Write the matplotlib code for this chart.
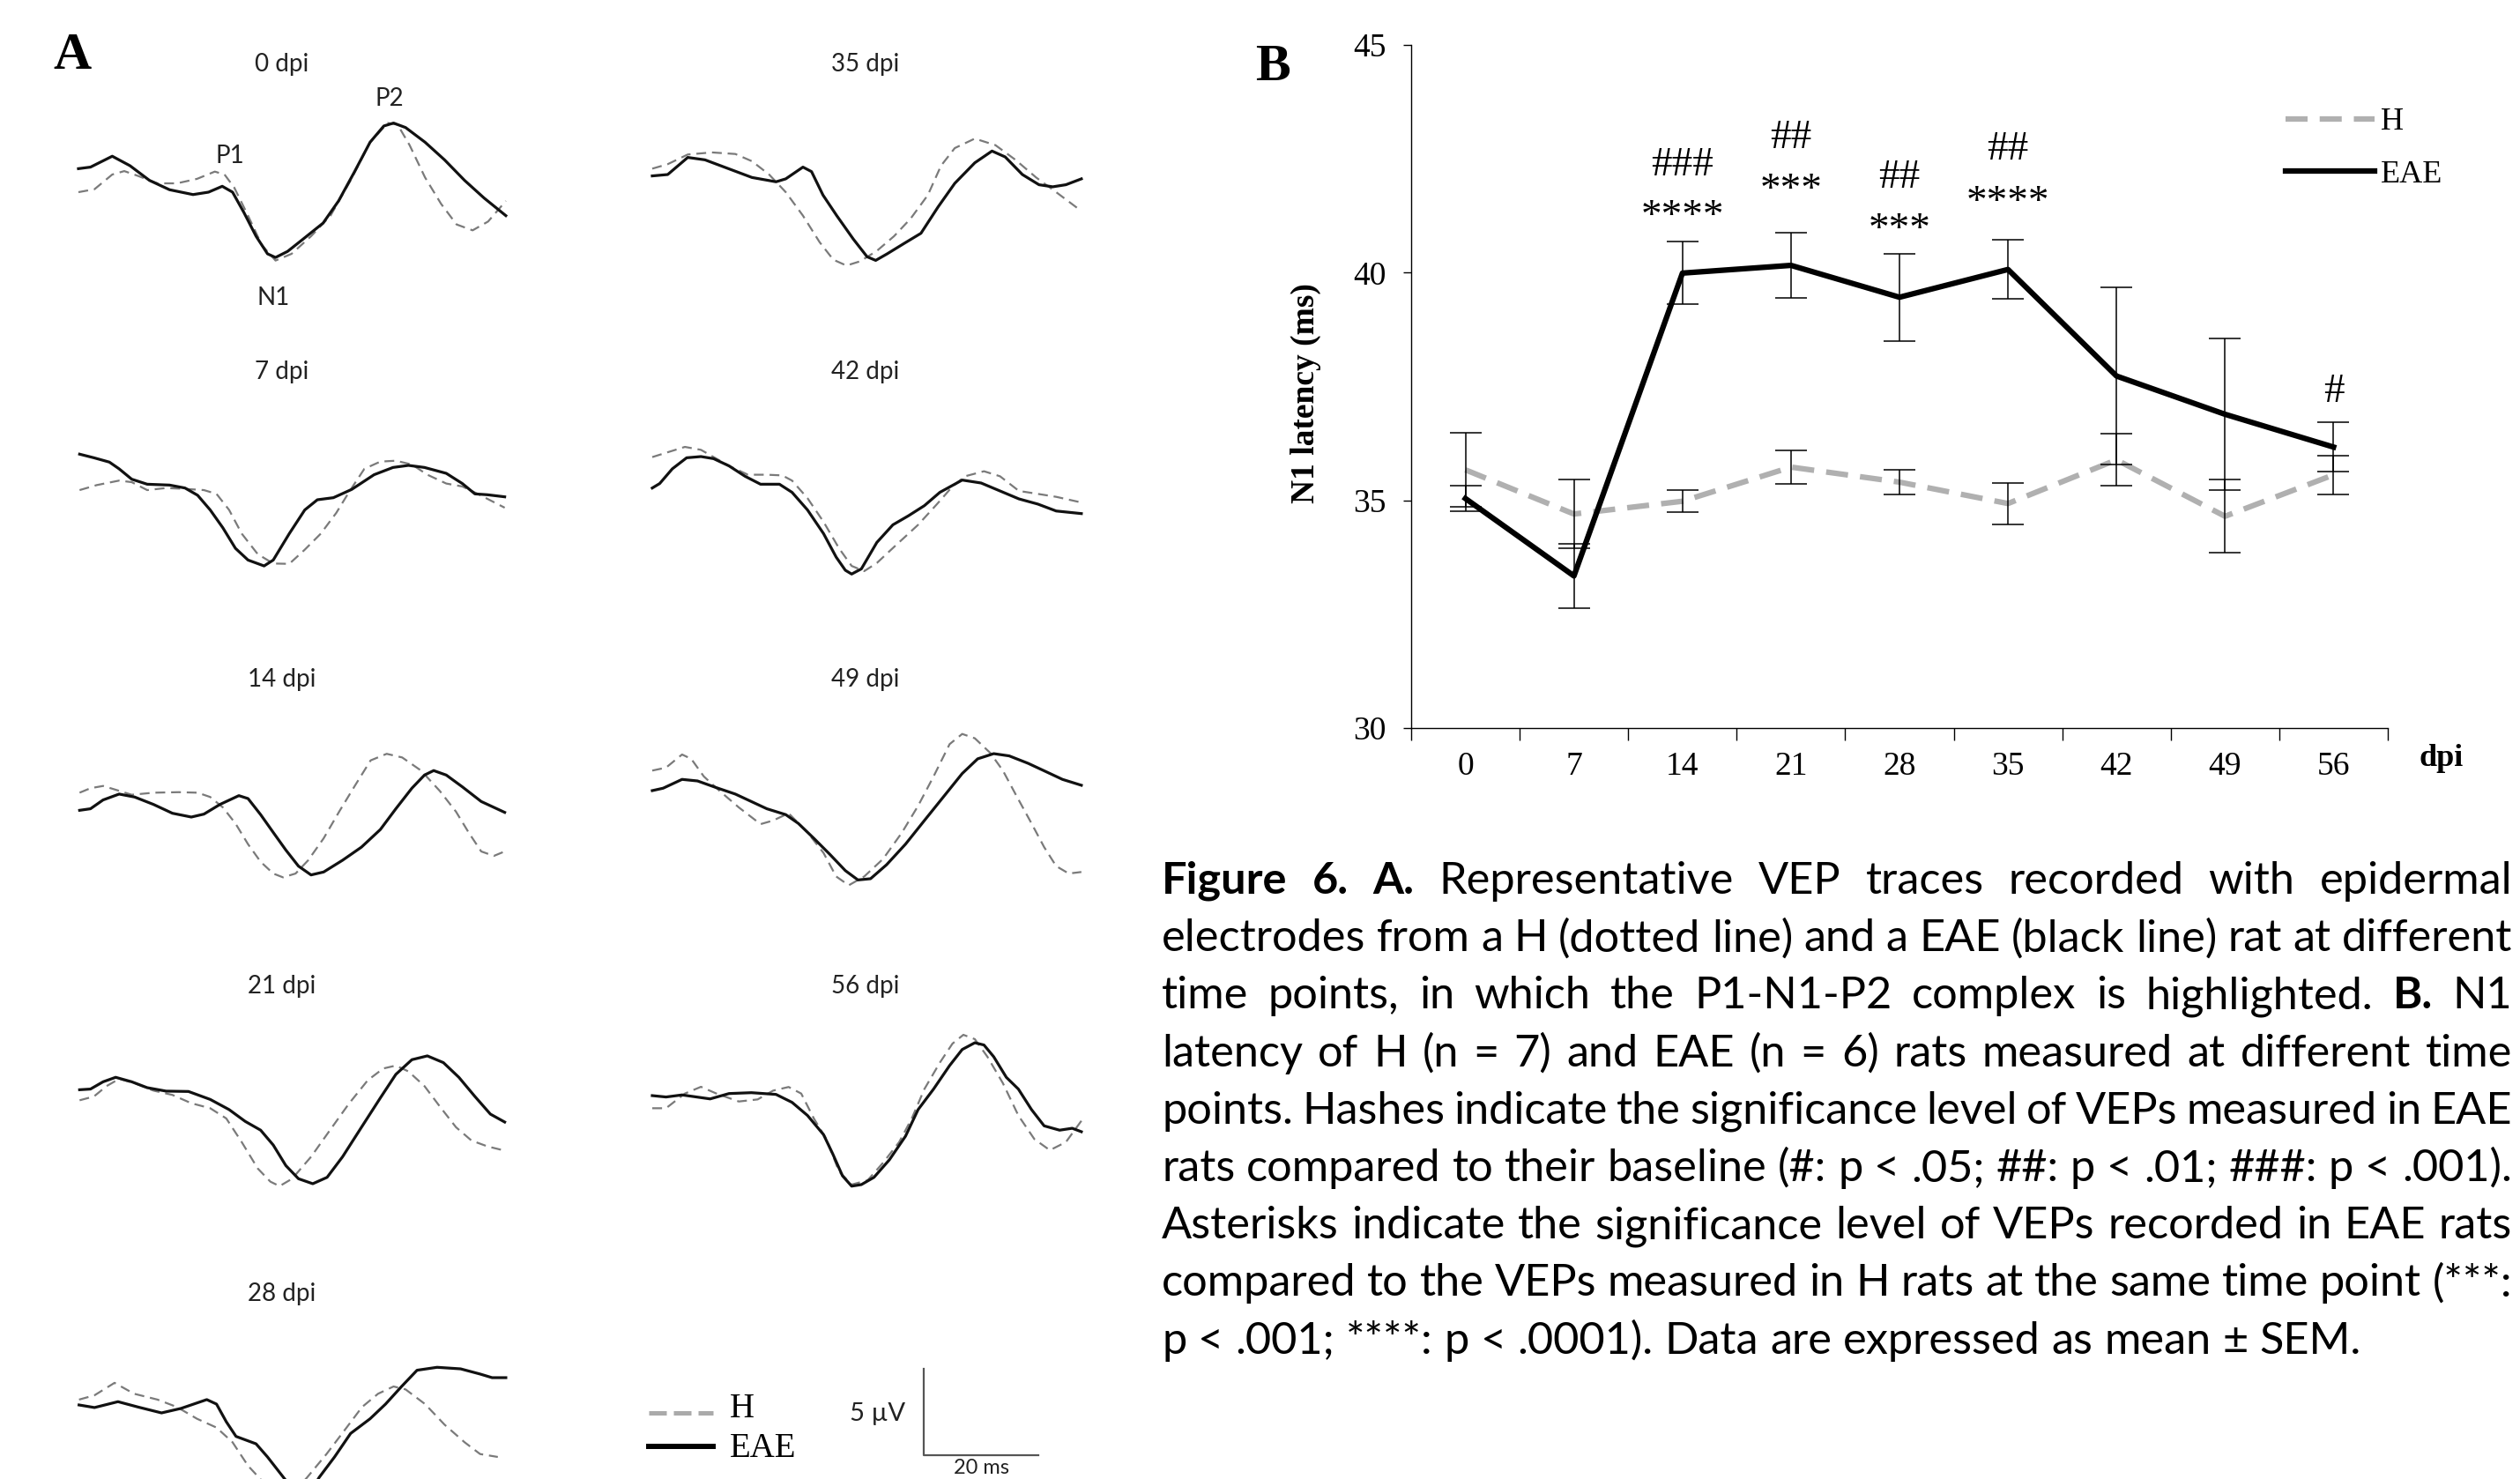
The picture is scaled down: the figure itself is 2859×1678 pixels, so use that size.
import matplotlib
matplotlib.use('Agg')
import matplotlib.pyplot as plt

W, H = 2859, 1678
sans = ['Lato', 'DejaVu Sans']
serif = ['Liberation Serif', 'DejaVu Serif']

# ---------- panel A: representative VEP traces, points (time ms, amplitude uV) ----------
h_0 = [(0, 1.02), (2.8, 1.19), (5.9, 2.04), (8.0, 2.24), (10.4, 1.96), (13.8, 1.53), (17.2, 1.53),
       (20.7, 1.79), (23.8, 2.21), (25.5, 2.04), (27.2, 1.28), (29.6, -0.34), (32.0, -2.04),
       (34.4, -2.94), (37.2, -2.55), (40.6, -1.53), (44.0, -0.34), (47.5, 1.70), (50.9, 3.91),
       (54.0, 5.02), (55.7, 4.93), (57.8, 3.74), (60.5, 1.87), (63.3, 0.34), (66.0, -0.85),
       (68.8, -1.19), (71.5, -0.68), (74.6, 0.51)]
eae_0 = [(0, 2.38), (2.1, 2.47), (5.9, 3.10), (9.0, 2.55), (12.4, 1.70), (15.9, 1.16), (20.0, 0.88),
         (22.7, 1.02), (25.1, 1.36), (26.9, 1.02), (28.9, -0.17), (31.0, -1.53), (33.0, -2.55),
         (34.4, -2.76), (36.5, -2.41), (39.2, -1.70), (42.7, -0.77), (45.4, 0.51), (48.2, 2.21),
         (50.9, 3.91), (53.3, 4.85), (55.0, 5.02), (57.1, 4.76), (60.5, 3.91), (63.9, 2.89),
         (67.4, 1.70), (70.8, 0.68), (74.6, -0.34)]

h_7 = [(0.2, 1.58), (3.2, 1.87), (7.1, 2.13), (9.3, 2.04), (12.0, 1.58), (15.3, 1.70), (18.6, 1.65),
       (21.9, 1.58), (24.1, 1.36), (26.3, 0.43), (28.5, -0.94), (31.3, -2.13), (34.0, -2.67),
       (36.8, -2.69), (39.5, -1.87), (42.3, -0.94), (45.0, 0.26), (47.2, 1.45), (49.9, 2.81),
       (52.7, 3.23), (55.4, 3.28), (58.2, 3.06), (60.9, 2.47), (64.2, 1.96), (67.0, 1.79),
       (69.7, 1.36), (74.4, 0.56)]
eae_7 = [(0.2, 3.66), (2.7, 3.45), (5.4, 3.20), (7.1, 2.81), (9.3, 2.21), (12.0, 1.92), (15.9, 1.87),
         (18.6, 1.70), (20.8, 1.28), (23.0, 0.43), (25.2, -0.60), (27.4, -1.79), (29.6, -2.47),
         (32.4, -2.81), (34.0, -2.47), (36.8, -0.94), (39.5, 0.43), (41.7, 1.02), (44.5, 1.14),
         (47.7, 1.62), (51.6, 2.47), (54.9, 2.89), (57.6, 3.01), (60.4, 2.89), (64.2, 2.55),
         (67.0, 1.96), (69.2, 1.36), (71.4, 1.31), (74.4, 1.19)]

h_14 = [(0.2, 1.87), (2.1, 2.13), (4.3, 2.26), (6.5, 2.04), (9.3, 1.75), (13.1, 1.87), (17.5, 1.90),
        (20.8, 1.87), (23.0, 1.62), (25.2, 1.02), (27.4, 0.09), (29.6, -1.11), (31.8, -2.13),
        (34.0, -2.81), (35.7, -3.03), (37.9, -2.81), (40.1, -2.04), (42.8, -0.77), (45.5, 0.77),
        (48.3, 2.30), (51.0, 3.74), (53.8, 4.12), (56.5, 3.91), (59.8, 3.15), (63.1, 1.96),
        (65.9, 0.77), (68.1, -0.43), (70.3, -1.53), (72.5, -1.79), (74.4, -1.53)]
eae_14 = [(0.2, 0.85), (2.1, 0.94), (4.3, 1.45), (7.1, 1.79), (9.8, 1.62), (13.1, 1.19), (16.4, 0.68),
          (19.7, 0.46), (21.9, 0.63), (24.7, 1.19), (28.0, 1.70), (29.6, 1.53), (31.8, 0.60),
          (34.0, -0.43), (36.2, -1.45), (38.4, -2.38), (40.6, -2.89), (42.8, -2.72), (46.1, -2.04),
          (49.4, -1.28), (52.7, -0.26), (55.4, 0.94), (58.2, 2.13), (60.4, 2.89), (62.0, 3.15),
          (64.2, 2.89), (67.0, 2.21), (70.3, 1.36), (74.4, 0.73)]

h_21 = [(0.2, 1.82), (2.7, 2.04), (4.9, 2.64), (7.1, 3.06), (9.8, 2.81), (13.1, 2.38), (16.4, 2.13),
        (19.7, 1.65), (23.0, 1.36), (25.8, 0.77), (28.5, -0.60), (31.3, -2.13), (33.5, -2.89),
        (35.1, -3.15), (37.3, -2.72), (40.6, -1.45), (43.9, 0.09), (47.2, 1.62), (50.5, 2.98),
        (53.2, 3.66), (55.4, 3.83), (57.6, 3.49), (60.4, 2.64), (63.1, 1.45), (65.9, 0.26),
        (68.6, -0.51), (71.4, -0.85), (74.1, -1.07)]
eae_21 = [(0.2, 2.43), (2.1, 2.47), (4.3, 2.89), (6.5, 3.15), (9.3, 2.89), (12.0, 2.55), (15.3, 2.35),
          (19.2, 2.33), (23.0, 1.87), (26.3, 1.28), (29.1, 0.60), (31.8, 0.09), (34.0, -0.77),
          (36.2, -1.96), (38.4, -2.72), (40.9, -3.01), (43.4, -2.64), (46.1, -1.45), (49.4, 0.26),
          (52.7, 1.96), (55.4, 3.32), (58.2, 4.17), (60.9, 4.39), (63.7, 4.00), (66.4, 3.15),
          (69.2, 2.04), (71.9, 1.02), (74.4, 0.56)]

h_28 = [(0.1, 2.30), (2.8, 2.55), (6.3, 3.27), (9.7, 2.64), (13.8, 2.30), (17.2, 1.87), (20.7, 1.19),
        (24.1, 0.68), (26.9, -0.17), (29.6, -1.53), (31.7, -2.28), (34.4, -3.40), (37.2, -3.23),
        (39.9, -2.21), (43.3, -0.85), (46.8, 0.68), (49.5, 1.87), (52.3, 2.64), (55.0, 3.06),
        (57.1, 2.89), (60.5, 2.04), (63.9, 0.85), (67.4, -0.17), (70.1, -0.85), (73.2, -1.02)]
eae_28 = [(0.1, 1.99), (2.8, 1.84), (6.9, 2.18), (10.4, 1.87), (14.5, 1.53), (17.9, 1.79), (22.4, 2.30),
          (24.1, 2.04), (25.8, 1.02), (27.5, 0.17), (31.0, -0.26), (33.0, -1.02), (35.8, -2.21),
          (37.8, -3.06), (39.9, -3.40), (42.0, -2.21), (44.7, -1.02), (47.5, 0.34), (50.9, 1.19),
          (53.6, 2.04), (56.4, 3.06), (59.1, 4.00), (62.6, 4.17), (66.7, 4.08), (70.1, 3.78),
          (72.2, 3.57), (74.6, 3.57)]

h_35 = [(0, 2.38), (2.7, 2.64), (6.2, 3.20), (10.4, 3.32), (14.5, 3.23), (17.4, 2.81), (20.4, 2.04),
        (23.3, 1.02), (26.3, -0.34), (29.2, -1.87), (31.6, -2.89), (33.9, -3.23), (36.3, -2.98),
        (39.2, -2.38), (42.2, -1.53), (45.1, -0.51), (48.1, 0.85), (50.4, 2.55), (52.8, 3.57),
        (56.3, 4.12), (59.9, 3.74), (63.4, 2.89), (67.0, 1.87), (70.5, 1.02), (74.6, 0.0)]
eae_35 = [(0, 1.96), (2.7, 2.04), (6.2, 3.03), (9.2, 2.89), (13.3, 2.38), (17.4, 1.87), (21.6, 1.62),
          (23.3, 1.79), (26.3, 2.47), (27.8, 2.21), (29.8, 0.85), (32.2, -0.34), (35.1, -1.70),
          (37.5, -2.72), (39.0, -2.93), (41.0, -2.55), (43.9, -1.96), (46.9, -1.36), (49.9, 0.17),
          (52.8, 1.53), (56.3, 2.72), (59.3, 3.40), (61.6, 3.06), (64.6, 2.04), (67.5, 1.45),
          (69.9, 1.33), (72.2, 1.45), (74.9, 1.79)]

h_42 = [(0, 3.49), (2.4, 3.74), (5.7, 4.08), (8.5, 3.91), (11.2, 3.40), (13.4, 2.98), (16.7, 2.47),
        (20.0, 2.47), (22.7, 2.43), (24.4, 2.13), (27.1, 1.11), (29.9, -0.26), (32.6, -1.79),
        (34.8, -2.81), (37.0, -3.11), (39.2, -2.64), (42.5, -1.62), (46.4, -0.43), (49.7, 0.77),
        (52.4, 1.79), (54.6, 2.38), (57.9, 2.67), (60.7, 2.38), (64.0, 1.53), (67.3, 1.36),
        (70.5, 1.19), (74.4, 0.90)]
eae_42 = [(0, 1.70), (1.3, 1.96), (3.5, 2.81), (6.0, 3.45), (8.5, 3.52), (10.7, 3.40), (13.4, 2.98),
          (16.2, 2.38), (18.9, 1.92), (22.2, 1.92), (24.4, 1.45), (27.1, 0.43), (29.9, -0.94),
          (32.1, -2.30), (33.7, -3.06), (34.8, -3.28), (36.5, -2.98), (39.2, -1.45), (42.0, -0.43),
          (44.7, 0.09), (47.5, 0.68), (50.2, 1.45), (54.1, 2.16), (57.4, 1.99), (60.7, 1.53),
          (64.0, 1.07), (67.3, 0.77), (70.5, 0.37), (74.9, 0.22)]

h_49 = [(0, 3.15), (2.4, 3.32), (5.2, 4.08), (6.8, 3.83), (9.0, 2.81), (11.8, 1.96), (15.1, 1.02),
        (18.9, 0.05), (21.1, 0.26), (23.8, 0.68), (27.1, -0.43), (29.9, -1.62), (32.1, -2.98),
        (34.3, -3.49), (37.0, -2.98), (40.3, -1.96), (43.6, -0.43), (46.4, 1.11), (49.1, 2.81),
        (51.9, 4.68), (54.1, 5.27), (56.3, 5.02), (59.0, 4.17), (61.2, 3.15), (63.4, 1.79),
        (66.2, 0.09), (68.4, -1.28), (70.5, -2.38), (72.7, -2.81), (74.9, -2.72)]
eae_49 = [(0, 1.99), (1.9, 2.13), (5.2, 2.64), (7.9, 2.55), (11.2, 2.16), (14.5, 1.79), (17.8, 1.28),
          (20.0, 0.94), (23.3, 0.60), (25.5, 0.09), (28.2, -0.77), (31.0, -1.70), (33.7, -2.64),
          (35.9, -3.18), (38.1, -3.11), (40.9, -2.30), (44.2, -1.11), (47.5, 0.26), (50.8, 1.62),
          (54.1, 2.98), (56.8, 3.83), (59.6, 4.13), (62.3, 4.00), (65.6, 3.57), (68.9, 3.06),
          (71.6, 2.64), (74.9, 2.30)]

h_56 = [(0, 1.36), (2.4, 1.36), (5.7, 2.21), (8.5, 2.60), (11.2, 2.21), (15.1, 1.75), (18.4, 1.87),
        (21.1, 2.38), (23.8, 2.59), (26.0, 2.21), (28.2, 0.77), (30.4, -0.43), (32.6, -2.30),
        (34.8, -3.06), (37.6, -2.81), (40.3, -1.79), (43.1, -0.60), (45.3, 0.77), (47.5, 2.47),
        (50.2, 4.00), (52.4, 5.10), (54.3, 5.61), (56.3, 5.36), (58.5, 4.34), (61.2, 2.81),
        (63.9, 0.94), (66.7, -0.43), (69.4, -1.07), (72.2, -0.60), (74.9, 0.63)]
eae_56 = [(0, 2.09), (2.4, 2.01), (5.2, 2.13), (10.1, 1.90), (13.4, 2.21), (17.3, 2.26), (21.6, 2.16),
          (24.4, 1.70), (27.1, 0.94), (29.9, -0.17), (31.5, -1.28), (33.2, -2.55), (34.8, -3.15),
          (36.5, -3.06), (38.7, -2.64), (41.4, -1.62), (44.2, -0.26), (46.4, 1.28), (49.1, 2.47),
          (51.9, 3.83), (54.1, 4.76), (56.3, 5.15), (57.9, 5.02), (59.6, 4.34), (61.8, 3.15),
          (63.9, 2.47), (66.2, 1.28), (68.4, 0.34), (71.1, 0.09), (73.3, 0.20), (74.9, 0.0)]

left_titles = ['0 dpi', '7 dpi', '14 dpi', '21 dpi', '28 dpi']
right_titles = ['35 dpi', '42 dpi', '49 dpi', '56 dpi']
left_traces = [(h_0, eae_0), (h_7, eae_7), (h_14, eae_14), (h_21, eae_21), (h_28, eae_28)]
right_traces = [(h_35, eae_35), (h_42, eae_42), (h_49, eae_49), (h_56, eae_56)]

# ---------- panel B: N1 latency (ms), mean and SEM ----------
days = ['0', '7', '14', '21', '28', '35', '42', '49', '56']
h_mean = [35.67, 34.70, 34.98, 35.73, 35.40, 34.93, 35.89, 34.65, 35.56]
h_sem = [0.81, 0.75, 0.24, 0.37, 0.27, 0.45, 0.57, 0.80, 0.43]
eae_mean = [35.04, 33.34, 39.99, 40.16, 39.46, 40.07, 37.73, 36.89, 36.17]
eae_sem = [0.28, 0.70, 0.69, 0.72, 0.96, 0.65, 1.95, 1.67, 0.54]
hash_marks = ['', '', '###', '##', '##', '##', '', '', '#']
hash_y = [0, 0, 42.14, 42.73, 41.87, 42.48, 0, 0, 37.16]
star_marks = ['', '', '****', '***', '***', '****', '', '', '']
star_y = [0, 0, 40.99, 41.58, 40.70, 41.30, 0, 0, 0]

caption = [
    'Figure 6. A. Representative VEP traces recorded with epidermal',
    'electrodes from a H (dotted line) and a EAE (black line) rat at different',
    'time points, in which the P1-N1-P2 complex is highlighted. B. N1',
    'latency of H (n = 7) and EAE (n = 6) rats measured at different time',
    'points. Hashes indicate the significance level of VEPs measured in EAE',
    'rats compared to their baseline (#: p < .05; ##: p < .01; ###: p < .001).',
    'Asterisks indicate the significance level of VEPs recorded in EAE rats',
    'compared to the VEPs measured in H rats at the same time point (***:',
    'p < .001; ****: p < .0001). Data are expressed as mean \u00b1 SEM.',
]
bold_words = ['Figure', '6.', 'A.', 'B.']

fig = plt.figure(figsize=(W / 100, H / 100), dpi=100)

px_ms, px_uv = 6.5, 19.6
col_left = [89, 740]
title_x = [320, 982]
row_y = [73, 422, 771, 1119, 1468]
trace_gray = '#7a7a7a'


def trace_axes(col, row):
    yc = row_y[row] + 165
    ax = fig.add_axes([col_left[col] / W, 1 - (yc + 6 * px_uv) / H,
                       75 * px_ms / W, 12 * px_uv / H])
    ax.set_xlim(0, 75)
    ax.set_ylim(-6, 6)
    ax.axis('off')
    return ax


for col, (titles, traces) in enumerate([(left_titles, left_traces), (right_titles, right_traces)]):
    for row, (title, (h_tr, e_tr)) in enumerate(zip(titles, traces)):
        ax = trace_axes(col, row)
        ax.plot([p[0] for p in h_tr], [p[1] for p in h_tr], color=trace_gray, lw=1.6,
                dashes=(5, 3), clip_on=False)
        ax.plot([p[0] for p in e_tr], [p[1] for p in e_tr], color='#111111', lw=2.3,
                solid_joinstyle='round', clip_on=False)
        fig.text(title_x[col] / W, 1 - row_y[row] / H, title, family=sans, fontsize=20,
                 color='#222222', ha='center', va='center')
        if col == 0 and row == 0:
            ax.text(26.5, 3.11, 'P1', family=sans, fontsize=20, color='#222222', ha='center', va='center')
            ax.text(54.3, 6.43, 'P2', family=sans, fontsize=20, color='#222222', ha='center', va='center')
            ax.text(34.0, -5.1, 'N1', family=sans, fontsize=20, color='#222222', ha='center', va='center')

# legend and scale bars of panel A, in the empty bottom-right slot
ax = trace_axes(1, 4)
ax.plot([-0.6, 10.6], [1.53, 1.53], color='#aaaaaa', lw=3.6, dashes=(4, 1.6), clip_on=False)
ax.plot([-0.6, 10.6], [-0.41, -0.41], color='black', lw=4.3, clip_on=False)
ax.text(13.5, 1.28, 'H', family=serif, fontsize=28, va='baseline', ha='left')
ax.text(13.5, -1.02, 'EAE', family=serif, fontsize=28, va='baseline', ha='left')
ax.plot([47.4, 47.4, 67.4], [4.08, -0.92, -0.92], color='#555555', lw=1.6, clip_on=False)
ax.text(44.2, 1.07, '5 \u00b5V', family=sans, fontsize=21, ha='right', va='baseline', color='#222222')
fig.text((740 + 57.4 * px_ms) / W, 1 - 1676 / H, '20 ms', family=sans, fontsize=17,
         ha='center', va='bottom', color='#222222')

fig.text(82 / W, 1 - 64 / H, 'A', family=serif, weight='bold', fontsize=43, ha='center', va='center')

# ---------- panel B ----------
axb = fig.add_axes([1601 / W, 1 - 826 / H, 1108 / W, 775 / H])
x = list(range(len(days)))
axb.plot(x, h_mean, color='#b0b0b0', lw=4.5, dashes=(4, 2.2), label='H')
axb.plot(x, eae_mean, color='black', lw=4.5, label='EAE')
axb.errorbar(x, h_mean, yerr=h_sem, fmt='none', ecolor='black', elinewidth=1.1, capsize=13, capthick=1.1)
axb.errorbar(x, eae_mean, yerr=eae_sem, fmt='none', ecolor='black', elinewidth=1.1, capsize=13, capthick=1.1)
for i in x:
    if hash_marks[i]:
        axb.text(i, hash_y[i], hash_marks[i], family=serif, fontsize=34, ha='center', va='baseline')
    if star_marks[i]:
        axb.text(i, star_y[i], star_marks[i], family=serif, fontsize=34, ha='center', va='baseline')
axb.set_xlim(-0.5, 8.5)
axb.set_ylim(30, 45)
axb.set_yticks([30, 35, 40, 45])
axb.set_xticks(x)
axb.set_xticklabels(days)
axb.set_xticks([i - 0.5 for i in range(len(days) + 1)], minor=True)
axb.tick_params(axis='x', which='major', length=0, pad=19, labelsize=27)
axb.tick_params(axis='x', which='minor', length=10, width=1, direction='out')
axb.tick_params(axis='y', length=6.5, width=1, direction='out', pad=14, labelsize=27)
for lab in axb.get_xticklabels() + axb.get_yticklabels():
    lab.set_family(serif)
for s in ['top', 'right']:
    axb.spines[s].set_visible(False)
for s in ['left', 'bottom']:
    axb.spines[s].set_linewidth(1)
axb.set_ylabel('N1 latency (ms)', family=serif, weight='bold', fontsize=27)
axb.yaxis.set_label_coords(-0.092, 0.49)
axb.legend(loc='upper left', bbox_to_anchor=(2593 / W, 1 - 122 / H), bbox_transform=fig.transFigure,
           frameon=False, prop={'family': serif, 'size': 26}, handlelength=2.8, handletextpad=0.2,
           labelspacing=0.72, borderpad=0, borderaxespad=0)
fig.text(2770 / W, 1 - 860 / H, 'dpi', family=serif, weight='bold', fontsize=26, ha='center', va='center')
fig.text(1444 / W, 1 - 77 / H, 'B', family=serif, weight='bold', fontsize=43, ha='center', va='center')

# ---------- caption, justified ----------
renderer = fig.canvas.get_renderer()
cap_left, cap_right = 1318, 2850
cap_base0, cap_step = 1014, 65.2


def width_of(s, size, bold=False):
    t = fig.text(0, 0, s, family=sans, fontsize=size, weight='bold' if bold else 'normal')
    w = t.get_window_extent(renderer).width
    t.remove()
    return w


test = 30
natural = sum(width_of(w, test, w in bold_words) for w in caption[-1].split(' '))
natural += (len(caption[-1].split(' ')) - 1) * (width_of('a a', test) - width_of('aa', test))
cap_fs = test * 1360 / natural
space_w = width_of('a a', cap_fs) - width_of('aa', cap_fs)

for k, line in enumerate(caption):
    words = line.split(' ')
    y = 1 - (cap_base0 + k * cap_step) / H
    arts, widths = [], []
    for w in words:
        t = fig.text(0, y, w, family=sans, fontsize=cap_fs, ha='left', va='baseline',
                     weight='bold' if w in bold_words else 'normal')
        arts.append(t)
        widths.append(t.get_window_extent(renderer).width)
    if k < len(caption) - 1:
        gap = max((cap_right - cap_left - sum(widths)) / (len(words) - 1), 0.6 * space_w)
    else:
        gap = space_w
    xp = cap_left
    for t, wd in zip(arts, widths):
        t.set_x(xp / W)
        xp += wd + gap

fig.savefig('out.png', dpi=100)
